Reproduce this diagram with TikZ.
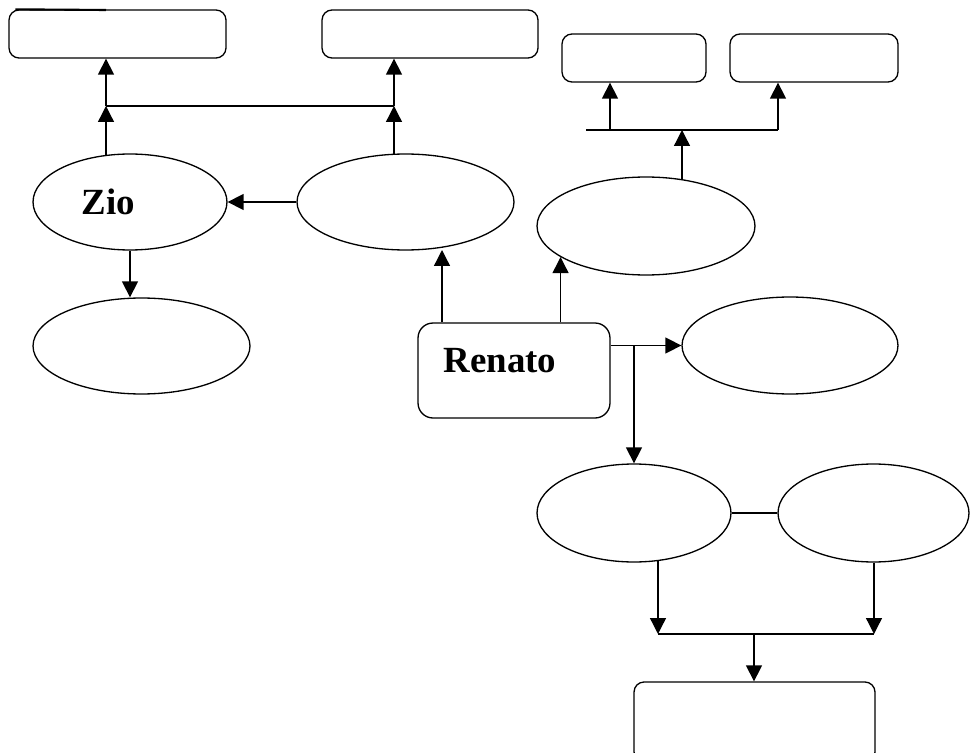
\documentclass[tikz,border=0pt]{standalone}
\usepackage{fontspec}
\setmainfont{Liberation Serif}
\usetikzlibrary{arrows.meta,shapes.geometric,positioning}

\begin{document}
\begin{tikzpicture}[x=0.02cm,y=-0.02cm,line width=0.75pt,
    >={Triangle[length=0.32cm,width=0.32cm]},
    ell/.style={draw,ellipse,inner sep=0pt},
    box/.style={draw,rectangle,rounded corners=0.2cm,inner sep=0pt},
    txt/.style={font=\fontsize{21}{25}\selectfont\bfseries}]
    \useasboundingbox (0,0) rectangle (970,753);
    % boxes on top
    \node[box,minimum width=4.34cm,minimum height=0.96cm] (r1) at (117.5,34) {};
    \node[box,minimum width=4.32cm,minimum height=0.96cm] (r2) at (430,34) {};
    \node[box,minimum width=2.88cm,minimum height=0.96cm] (r3) at (634,58) {};
    \node[box,minimum width=3.36cm,minimum height=0.96cm] (r4) at (814,58) {};
    % ellipses
    \node[ell,minimum width=3.88cm,minimum height=1.92cm,
          label={[txt,xshift=-0.43cm]center:Zio}] (zio) at (130,202) {};
    \node[ell,minimum width=4.34cm,minimum height=1.92cm] (e2) at (405.5,202) {};
    \node[ell,minimum width=4.36cm,minimum height=1.96cm] (e3) at (646,226) {};
    \node[ell,minimum width=4.34cm,minimum height=1.92cm] (e4) at (141.5,346) {};
    \node[ell,minimum width=4.32cm,minimum height=1.94cm] (e5) at (790,345.5) {};
    \node[ell,minimum width=3.88cm,minimum height=1.96cm] (e6) at (634,513) {};
    \node[ell,minimum width=3.82cm,minimum height=1.96cm] (e7) at (873.5,513) {};
    \node[box,rounded corners=0.3cm,minimum width=3.84cm,minimum height=1.9cm,
          label={[txt,xshift=-0.28cm,yshift=0.2cm]center:Renato}] (ren) at (514,370.5) {};
    \node[box,minimum width=4.82cm,minimum height=1.6cm] (r5) at (754.5,722) {};
    \draw[line width=1.2pt] ([xshift=4]r1.north west) -- (106,10);

    % junctions
    \coordinate (j1) at (106,106);
    \coordinate (j2) at (394,106);
    \coordinate (k0) at (586,130);
    \coordinate (k1) at (610,130);
    \coordinate (k2) at (682,130);
    \coordinate (k3) at (778,130);
    \coordinate (u1) at (442,250);
    \coordinate (br) at (634,345.5);
    \coordinate (m1) at (658,634);
    \coordinate (m2) at (874,634);
    \coordinate (m3) at (754,634);

    % upper left
    \draw[->] (j1 |- zio.117) -- (j1);
    \draw[->] (j1) -- (j1 |- r1.south);
    \draw (j1) -- (j2);
    \draw[->] (j2 |- e2.103) -- (j2);
    \draw[->] (j2) -- (j2 |- r2.south);
    \draw[->] (e2.west) -- (zio.east);
    \draw[->] (zio.south) -- (zio.south |- e4.north);
    % upper right
    \draw (k0) -- (k3);
    \draw[->] (k1) -- (k1 |- r3.south);
    \draw[->] (k3) -- (k3 |- r4.south);
    \draw[->] (k2 |- e3.52) -- (k2);
    % from Renato
    \draw[->] (ren.north -| u1) -- (u1);
    \draw[->] (ren.north -| e3.200) -- (e3.200);
    \draw[->] (ren.east |- e5.west) -- (e5.west);
    \draw[->] (br) -- (e6.north);
    % lower part
    \draw (e6.east) -- (e7.west);
    \draw[->] (m1 |- e6.297) -- (m1);
    \draw[->] (m2 |- e7.south) -- (m2);
    \draw (m1) -- (m2);
    \draw[->] (m3) -- (m3 |- r5.north);
\end{tikzpicture}
\end{document}
